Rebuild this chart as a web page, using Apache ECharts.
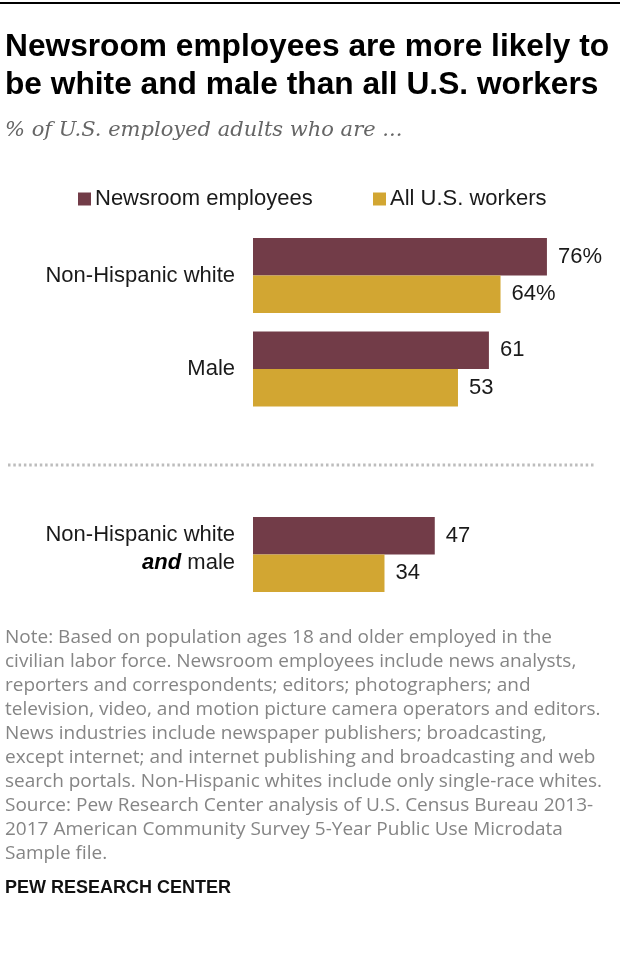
<!DOCTYPE html>
<html>
<head>
<meta charset="utf-8">
<script src="https://cdn.jsdelivr.net/npm/echarts@6/dist/echarts.min.js"></script>
<style>
html,body{margin:0;padding:0;background:#fff;}
#chart{width:620px;height:968px;}
</style>
</head>
<body>
<div id="chart"></div>
<script>
// ---- data ----
const seriesNames = ['Newsroom employees', 'All U.S. workers'];
const categoriesTop = ['Non-Hispanic white', 'Male'];
const newsroomTop = [76, 61];
const workersTop = [64, 53];
const categoriesBottom = ['Non-Hispanic white and male'];
const newsroomBottom = [47];
const workersBottom = [34];

const titleLines = ['Newsroom employees are more likely to', 'be white and male than all U.S. workers'];
const subtitle = '% of U.S. employed adults who are ...';
const noteLines = [
  'Note: Based on population ages 18 and older employed in the',
  'civilian labor force. Newsroom employees include news analysts,',
  'reporters and correspondents; editors; photographers; and',
  'television, video, and motion picture camera operators and editors.',
  'News industries include newspaper publishers; broadcasting,',
  'except internet; and internet publishing and broadcasting and web',
  'search portals. Non-Hispanic whites include only single-race whites.',
  'Source: Pew Research Center analysis of U.S. Census Bureau 2013-',
  '2017 American Community Survey 5-Year Public Use Microdata',
  'Sample file.'
];
const sourceLabel = 'PEW RESEARCH CENTER';

// ---- styles ----
const MAROON = '#723c48';
const GOLD = '#d2a632';
const FONT = '"Liberation Sans", Arial, sans-serif';
const LABEL_SIZE = 22;

const chart = echarts.init(document.getElementById('chart'), null, {renderer: 'canvas'});

function barLabel(withPct) {
  return {
    show: true, position: 'right', distance: 11,
    fontFamily: FONT, fontSize: LABEL_SIZE, color: '#1a1a1a',
    formatter: p => (withPct && p.dataIndex === 0) ? p.value + '%' : String(p.value)
  };
}

const axisLabelBase = {
  margin: 18, fontFamily: FONT, fontSize: LABEL_SIZE, color: '#1a1a1a'
};

const option = {
  animation: false,
  backgroundColor: '#fff',
  legend: [
    {
      data: [seriesNames[0]], left: 78, top: 187, padding: 0,
      icon: 'rect', itemWidth: 13, itemHeight: 13, itemGap: 0,
      selectedMode: false,
      textStyle: {fontFamily: FONT, fontSize: LABEL_SIZE, color: '#1a1a1a', lineHeight: 24, padding: [0,0,0,-1]}
    },
    {
      data: [seriesNames[1]], left: 373, top: 187, padding: 0,
      icon: 'rect', itemWidth: 13, itemHeight: 13, itemGap: 0,
      selectedMode: false,
      textStyle: {fontFamily: FONT, fontSize: LABEL_SIZE, color: '#1a1a1a', lineHeight: 24, padding: [0,0,0,-1]}
    }
  ],
  grid: [
    {left: 253, width: 309.4, top: 228.75, height: 187},
    {left: 253, width: 309.4, top: 507.75, height: 93.5}
  ],
  xAxis: [
    {gridIndex: 0, type: 'value', min: 0, max: 80, show: false},
    {gridIndex: 1, type: 'value', min: 0, max: 80, show: false}
  ],
  yAxis: [
    {
      gridIndex: 0, type: 'category', inverse: true, data: categoriesTop,
      axisLine: {show: false}, axisTick: {show: false}, splitLine: {show: false},
      axisLabel: axisLabelBase
    },
    {
      gridIndex: 1, type: 'category', inverse: true, data: categoriesBottom,
      axisLine: {show: false}, axisTick: {show: false}, splitLine: {show: false},
      axisLabel: Object.assign({}, axisLabelBase, {
        lineHeight: 28,
        padding: [0, 0, 11, 0],
        formatter: v => v.replace(' and ', '\n{i|and} '),
        rich: {
          i: {fontFamily: FONT, fontSize: LABEL_SIZE, fontWeight: 'bold', fontStyle: 'italic', color: '#000', lineHeight: 28}
        }
      })
    }
  ],
  series: [
    {name: seriesNames[0], type: 'bar', xAxisIndex: 0, yAxisIndex: 0, data: newsroomTop,
     barWidth: 37.5, barGap: '0%', itemStyle: {color: MAROON}, label: barLabel(true)},
    {name: seriesNames[1], type: 'bar', xAxisIndex: 0, yAxisIndex: 0, data: workersTop,
     barWidth: 37.5, barGap: '0%', itemStyle: {color: GOLD}, label: barLabel(true)},
    {name: seriesNames[0], type: 'bar', xAxisIndex: 1, yAxisIndex: 1, data: newsroomBottom,
     barWidth: 37.5, barGap: '0%', itemStyle: {color: MAROON}, label: barLabel(false)},
    {name: seriesNames[1], type: 'bar', xAxisIndex: 1, yAxisIndex: 1, data: workersBottom,
     barWidth: 37.5, barGap: '0%', itemStyle: {color: GOLD}, label: barLabel(false)}
  ],
  graphic: [
    {type: 'rect', shape: {x: 0, y: 2, width: 620, height: 2}, style: {fill: '#000'}, silent: true},
    {type: 'text', left: 5, top: 28, silent: true,
     style: {text: titleLines.join('\n'), font: 'bold 31.7px ' + FONT, fill: '#000', lineHeight: 38}},
    {type: 'text', left: 5, top: 120, silent: true,
     style: {text: subtitle, font: 'italic 21px "DejaVu Serif", Georgia, serif', fill: '#666'}},
    {type: 'line', shape: {x1: 8, y1: 465, x2: 595, y2: 465}, silent: true,
     style: {stroke: '#bdbdbd', lineWidth: 3, lineDash: [2.5, 2.8]}},
    {type: 'text', left: 5, top: 626, silent: true,
     style: {text: noteLines.join('\n'), font: '19px "Open Sans", sans-serif', fill: '#858585', lineHeight: 24}},
    {type: 'text', left: 5, top: 879, silent: true,
     style: {text: sourceLabel, font: 'bold 18px ' + FONT, fill: '#111'}}
  ]
};
chart.setOption(option);
</script>
</body>
</html>
